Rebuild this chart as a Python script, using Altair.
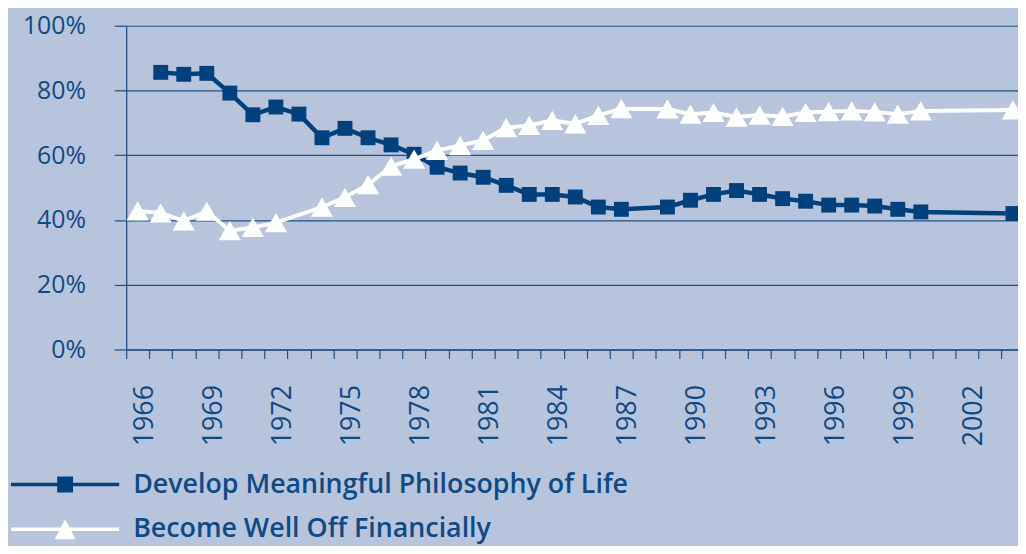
import altair as alt
import pandas as pd

# ---- data ----
DEV = "Develop Meaningful Philosophy of Life"
FIN = "Become Well Off Financially"

dev_years = [1967, 1968, 1969, 1970, 1971, 1972, 1973, 1974, 1975, 1976, 1977,
             1978, 1979, 1980, 1981, 1982, 1983, 1984, 1985, 1986, 1987,
             1989, 1990, 1991, 1992, 1993, 1994, 1995, 1996, 1997, 1998,
             1999, 2000, 2004]
dev_values = [85.6, 85.0, 85.3, 79.2, 72.5, 74.9, 72.7, 65.4, 68.3, 65.4, 63.2,
              60.3, 56.3, 54.5, 53.2, 50.7, 47.9, 47.9, 47.1, 44.0, 43.3,
              44.0, 46.1, 47.9, 49.1, 47.9, 46.6, 45.8, 44.6, 44.6, 44.3,
              43.3, 42.5, 42.0]

fin_years = [1966, 1967, 1968, 1969, 1970, 1971, 1972, 1974, 1975, 1976, 1977,
             1978, 1979, 1980, 1981, 1982, 1983, 1984, 1985, 1986, 1987,
             1989, 1990, 1991, 1992, 1993, 1994, 1995, 1996, 1997, 1998,
             1999, 2000, 2004]
fin_values = [42.8, 42.2, 39.7, 42.7, 36.7, 37.7, 39.2, 44.0, 47.0, 50.9, 56.6,
              58.8, 61.5, 63.0, 64.6, 68.5, 69.2, 70.8, 69.7, 72.3, 74.4,
              74.3, 72.7, 73.2, 71.8, 72.4, 72.0, 73.2, 73.5, 73.7, 73.4,
              72.7, 73.7, 74.0]

year_ticks = [y - 0.5 for y in range(1966, 2005)]   # band edges between years
y_ticks = [0, 20, 40, 60, 80, 100]

df = pd.DataFrame({
    "year": dev_years + fin_years,
    "value": dev_values + fin_values,
    "series": [DEV] * len(dev_years) + [FIN] * len(fin_years),
})

# ---- style ----
BG = "#b8c4dc"
DARK = "#00417e"
LINEC = "#1d5088"
TEXT = "#0e4a84"
FONT = "Open Sans"

legend_paths = [
    "M-5.45,-0.17H5.45V0.17H-5.45Z M-0.8,-0.8H0.8V0.8H-0.8Z",
    "M-5.45,-0.17H5.45V0.17H-5.45Z M0,-1L1.05,1H-1.05Z",
]

x_axis = alt.Axis(
    values=year_ticks,
    labelExpr="((datum.value - 0.5 - 1966) % 3 == 0) ? '' + (datum.value - 0.5) : ''",
    labelAngle=270, labelAlign="left", labelBaseline="middle",
    labelPadding=88, labelOffset=-5,
    labelOverlap=False, labelFlush=False, labelBound=False,
    labelFont=FONT, labelFontSize=27, labelColor=TEXT,
    tickSize=9, tickColor=LINEC, tickWidth=1.2,
    domainColor=LINEC, domainWidth=1.3,
    grid=False, title=None,
)
y_axis = alt.Axis(
    values=y_ticks,
    labelExpr="datum.value + '%'",
    labelPadding=29, labelFont=FONT, labelFontSize=25, labelColor=TEXT,
    tickSize=12, tickColor=LINEC, tickWidth=1.2,
    domainColor=LINEC, domainWidth=1.3,
    grid=True, gridColor=LINEC, gridWidth=1.2, gridOpacity=1,
    title=None,
)

base = alt.Chart(df).encode(
    x=alt.X("year:Q", scale=alt.Scale(domain=[1965.5, 2004.22], nice=False, zero=False), axis=x_axis),
    y=alt.Y("value:Q", scale=alt.Scale(domain=[0, 100], nice=False), axis=y_axis),
)

leg = alt.Legend(
    orient="none", legendX=-75, legendY=448.5, direction="vertical",
    title=None, padding=0, offset=0,
    symbolSize=400, symbolOpacity=1, symbolStrokeWidth=0,
    labelFont=FONT, labelFontSize=27, labelFontWeight=600, labelColor=TEXT,
    labelOffset=55, labelLimit=0, rowPadding=17,
)

legend_layer = base.mark_point(filled=True, opacity=0).encode(
    color=alt.Color("series:N", scale=alt.Scale(domain=[DEV, FIN], range=[DARK, "#ffffff"]), legend=leg),
    shape=alt.Shape("series:N", scale=alt.Scale(domain=[DEV, FIN], range=legend_paths), legend=leg),
)

dev_base = base.transform_filter(alt.datum.series == DEV)
fin_base = base.transform_filter(alt.datum.series == FIN)

dev_line = dev_base.mark_line(color=DARK, strokeWidth=4.5)
dev_pts = dev_base.mark_point(shape="square", filled=True, size=225, color=DARK, opacity=1)
fin_line = fin_base.mark_line(color="#ffffff", strokeWidth=4)
fin_pts = fin_base.mark_point(shape="triangle-up", filled=True, size=500, color="#ffffff", opacity=1)

chart = alt.layer(legend_layer, dev_line, dev_pts, fin_line, fin_pts).properties(
    width=898, height=326,
    autosize=alt.AutoSizeParams(type="none"),
    padding={"left": 119, "top": 16, "right": 0, "bottom": 196},
    background=BG,
).configure_view(strokeWidth=0)

chart.save("out.html", embed_options={"renderer": "svg", "actions": False})
